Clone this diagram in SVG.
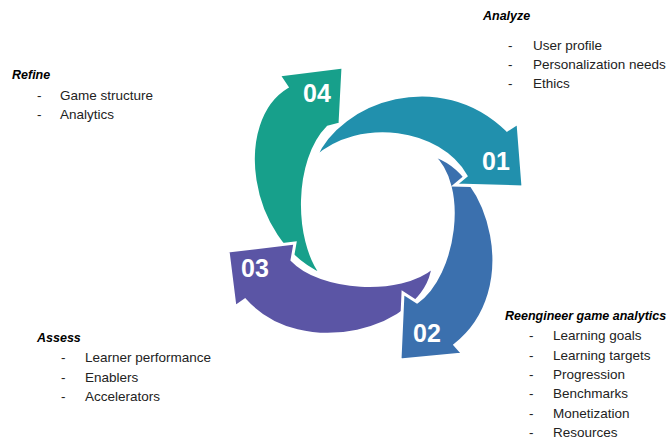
<svg xmlns="http://www.w3.org/2000/svg" width="671" height="439" viewBox="0 0 671 439">
<style>
  .arrow { stroke: #ffffff; stroke-width: 3; stroke-linejoin: miter; }
  .num { font-family: "Liberation Sans", Arial, sans-serif; font-weight: bold; font-size: 25px; fill: #ffffff; }
  .hd { font-family: "Liberation Sans", Arial, sans-serif; font-weight: bold; font-style: italic; font-size: 12.5px; fill: #000000; }
  .it { font-family: "Liberation Sans", Arial, sans-serif; font-size: 13.5px; fill: #222222; }
</style>
<rect width="671" height="439" fill="#ffffff"/>
<g id="connectors"></g>
<g id="node-04">
  <path class="arrow" fill="#17a08b" d="M322,275 C245,240 232,120 287,87 L279,75 L343,67 L340,124 L328,127 C295,160 295,240 322,275 Z"/>
  <text class="num" x="303" y="102">04</text>
</g>
<g id="node-03">
  <path class="arrow" fill="#5b55a5" d="M433,267 C425,330 302,364 245,300 L235,307 L228,251 L295,243 L292,260 C320,290 400,295 433,267 Z"/>
  <text class="num" x="241" y="277">03</text>
</g>
<g id="node-02">
  <path class="arrow" fill="#3b70ae" d="M432,155 C490,170 525,290 455,345 L463,354 L400,360 L403,293 L417,302 C455,275 468,185 432,155 Z"/>
  <text class="num" x="413" y="342">02</text>
</g>
<g id="node-01">
  <path class="arrow" fill="#2190ad" d="M315,158 C340,100 440,65 507,130 L518,123 L523,187 L455,185 L466,176 C440,130 360,118 315,158 Z"/>
  <text class="num" x="482" y="170">01</text>
</g>
<g id="text-analyze">
  <text class="hd" x="483" y="20">Analyze</text>
  <text class="it"><tspan x="508" y="50">-</tspan><tspan x="533" y="50">User profile</tspan></text>
  <text class="it"><tspan x="508" y="69">-</tspan><tspan x="533" y="69">Personalization needs</tspan></text>
  <text class="it"><tspan x="508" y="88">-</tspan><tspan x="533" y="88">Ethics</tspan></text>
</g>
<g id="text-refine">
  <text class="hd" x="12" y="79">Refine</text>
  <text class="it"><tspan x="37" y="100">-</tspan><tspan x="60" y="100">Game structure</tspan></text>
  <text class="it"><tspan x="37" y="119">-</tspan><tspan x="60" y="119">Analytics</tspan></text>
</g>
<g id="text-assess">
  <text class="hd" x="37" y="342">Assess</text>
  <text class="it"><tspan x="61" y="362">-</tspan><tspan x="85" y="362">Learner performance</tspan></text>
  <text class="it"><tspan x="61" y="382">-</tspan><tspan x="85" y="382">Enablers</tspan></text>
  <text class="it"><tspan x="61" y="401">-</tspan><tspan x="85" y="401">Accelerators</tspan></text>
</g>
<g id="text-reengineer">
  <text class="hd" x="505" y="320">Reengineer game analytics</text>
  <text class="it"><tspan x="529" y="340">-</tspan><tspan x="553" y="340">Learning goals</tspan></text>
  <text class="it"><tspan x="529" y="360">-</tspan><tspan x="553" y="360">Learning targets</tspan></text>
  <text class="it"><tspan x="529" y="379">-</tspan><tspan x="553" y="379">Progression</tspan></text>
  <text class="it"><tspan x="529" y="398">-</tspan><tspan x="553" y="398">Benchmarks</tspan></text>
  <text class="it"><tspan x="529" y="418">-</tspan><tspan x="553" y="418">Monetization</tspan></text>
  <text class="it"><tspan x="529" y="437">-</tspan><tspan x="553" y="437">Resources</tspan></text>
</g>
</svg>
